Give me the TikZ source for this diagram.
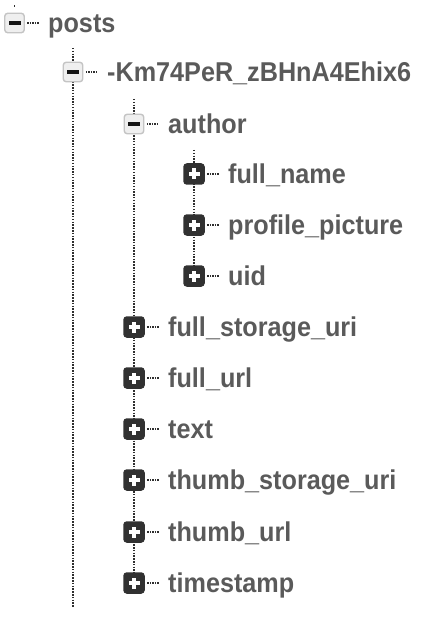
\documentclass[tikz,border=0pt]{standalone}
\usepackage{fontspec}
\setmainfont{Liberation Sans}
\definecolor{labeltext}{HTML}{5A5A5A}
\definecolor{minusfill}{HTML}{EFEFEF}
\definecolor{minusedge}{HTML}{C4C4C4}
\definecolor{minusbar}{HTML}{151515}
\definecolor{plusfill}{HTML}{313131}
\definecolor{dotline}{HTML}{2E2E2E}
\newcommand\tallword[1]{\scalebox{1}[1.08]{#1}}
\tikzset{
  minusbox/.style={draw=minusedge, fill=minusfill, line width=1.4pt, rounded corners=3pt,
    minimum size=19.5pt, inner sep=0pt,
    path picture={\fill[minusbar, sharp corners] ([xshift=-6pt,yshift=-2pt]path picture bounding box.center)
      rectangle ([xshift=6pt,yshift=2pt]path picture bounding box.center);}},
  plusbox/.style={fill=plusfill, rounded corners=3.5pt, minimum size=21.5pt, inner sep=0pt,
    path picture={\fill[white, sharp corners] ([xshift=-5.5pt,yshift=-1.9pt]path picture bounding box.center)
      rectangle ([xshift=5.5pt,yshift=1.9pt]path picture bounding box.center);
      \fill[white, sharp corners] ([xshift=-1.9pt,yshift=-5.5pt]path picture bounding box.center)
      rectangle ([xshift=1.9pt,yshift=5.5pt]path picture bounding box.center);}},
  keylabel/.style={anchor=base west, inner sep=0pt, text=labeltext,
    font=\bfseries\fontsize{25.2}{30}\selectfont},
  stub/.style={draw=dotline, line width=1.5pt, dash pattern=on 1.3pt off 1.2pt},
  vline/.style={draw=dotline, line width=1.8pt, dash pattern=on 1.5pt off 1.3pt},
}
\begin{document}
\begin{tikzpicture}[x=1pt,y=-1pt]
\useasboundingbox (0,0) rectangle (426,620);
% vertical dotted lines (drawn first, behind the boxes)
\coordinate (topposts) at (14.5,5.5);
\coordinate (topkey) at (73,48);
\coordinate (endkey) at (73,607);
\coordinate (topauthor) at (134,99);
\coordinate (endauthor) at (134,583);
\coordinate (topchild) at (194,150);
\coordinate (endchild) at (194,276);
\draw[vline] (topposts) -- ++(0,2.5);
\draw[vline] (topkey) -- (endkey);
\draw[vline] (topauthor) -- (endauthor);
\draw[vline] (topchild) -- (endchild);
% boxes
\node[minusbox] (bposts) at (14.5,23) {};
\node[minusbox] (bkey) at (73,72) {};
\node[minusbox] (bauthor) at (134,124) {};
\node[plusbox] (bfullname) at (194,174) {};
\node[plusbox] (bprofile) at (194,225) {};
\node[plusbox] (buid) at (194,276) {};
\node[plusbox] (bfsu) at (134,327) {};
\node[plusbox] (bfurl) at (134,378) {};
\node[plusbox] (btext) at (134,429) {};
\node[plusbox] (btsu) at (134,480) {};
\node[plusbox] (bturl) at (134,532) {};
\node[plusbox] (bts) at (134,583) {};
% labels
\node[keylabel] (lposts) at (48,32.5) {\tallword{posts}};
\node[keylabel] (lkey) at (107,81.5) {\tallword{-Km74PeR\_zBHnA4Ehix6}};
\node[keylabel] (lauthor) at (168,133.5) {\tallword{author}};
\node[keylabel] (lfullname) at (228,183.5) {\tallword{full\_name}};
\node[keylabel] (lprofile) at (228,234.5) {\tallword{profile\_picture}};
\node[keylabel] (luid) at (228,285.5) {\tallword{uid}};
\node[keylabel] (lfsu) at (168,336.5) {\tallword{full\_storage\_uri}};
\node[keylabel] (lfurl) at (168,387.5) {\tallword{full\_url}};
\node[keylabel] (ltext) at (168,438.5) {\tallword{text}};
\node[keylabel] (ltsu) at (168,489.5) {\tallword{thumb\_storage\_uri}};
\node[keylabel] (lturl) at (168,541.5) {\tallword{thumb\_url}};
\node[keylabel] (lts) at (168,592.5) {\tallword{timestamp}};
% stubs
\foreach \b in {bposts,bkey,bauthor,bfullname,bprofile,buid,bfsu,bfurl,btext,btsu,bturl,bts}
  \draw[stub] ([xshift=2.5pt]\b.east) -- ++(12,0);
\end{tikzpicture}
\end{document}
